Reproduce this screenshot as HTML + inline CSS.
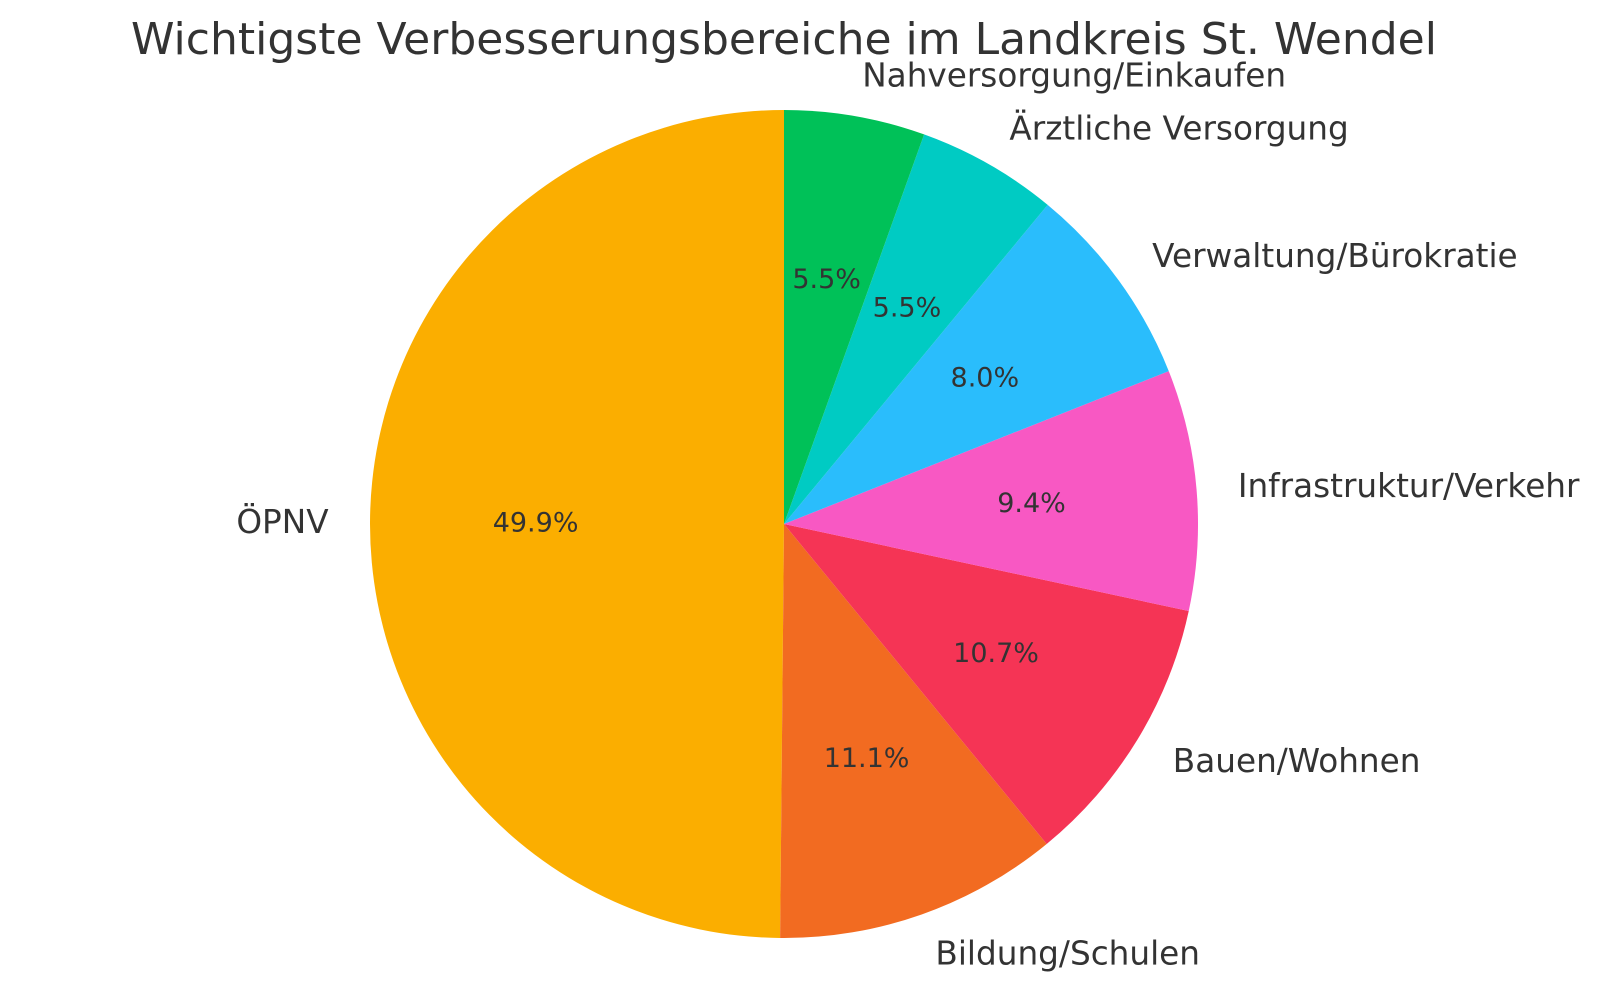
<!DOCTYPE html>
<html><head><meta charset="utf-8"><style>
html,body{margin:0;padding:0;background:#fff;}
svg text{font-family:"DejaVu Sans","Liberation Sans",sans-serif;fill:#333;}
</style></head><body>
<svg id="s" width="1600" height="1000" viewBox="0 0 1600 1000" xmlns="http://www.w3.org/2000/svg">
<text x="784" y="54" font-size="44" text-anchor="middle">Wichtigste Verbesserungsbereiche im Landkreis St. Wendel</text>
</svg>
<script>
const data=[["ÖPNV",49.9,"#FBAE00"],["Bildung/Schulen",11.1,"#F26B21"],["Bauen/Wohnen",10.7,"#F53455"],["Infrastruktur/Verkehr",9.4,"#F858C3"],["Verwaltung/Bürokratie",8.0,"#2ABDFC"],["Ärztliche Versorgung",5.5,"#00CBC3"],["Nahversorgung/Einkaufen",5.5,"#00C158"]];
const cx=784,cy=524,r=414,ns="http://www.w3.org/2000/svg",s=document.getElementById("s");
const tot=data.reduce((a,d)=>a+d[1],0);
let a=90;
function pt(ang,rr){const t=ang*Math.PI/180;return [cx+rr*Math.cos(t),cy-rr*Math.sin(t)];}
for(const [lab,v,c] of data){
 const sw=v/tot*360,a2=a+sw;
 const p1=pt(a,r),p2=pt(a2,r);
 const path=document.createElementNS(ns,"path");
 path.setAttribute("d",`M${cx},${cy}L${p1[0]},${p1[1]}A${r},${r} 0 ${sw>180?1:0} 0 ${p2[0]},${p2[1]}Z`);
 path.setAttribute("fill",c);s.appendChild(path);
 const m=(a+a2)/2;
 const lp=pt(m,r*1.1),pp=pt(m,r*0.6);
 let t=document.createElementNS(ns,"text");
 t.setAttribute("x",lp[0]);t.setAttribute("y",lp[1]);t.setAttribute("font-size","32.7");
 t.setAttribute("dominant-baseline","central");
 t.setAttribute("text-anchor",lp[0]>cx?"start":"end");t.textContent=lab;s.appendChild(t);
 t=document.createElementNS(ns,"text");
 t.setAttribute("x",pp[0]);t.setAttribute("y",pp[1]);t.setAttribute("font-size","27");
 t.setAttribute("dominant-baseline","central");t.setAttribute("text-anchor","middle");
 t.textContent=v.toFixed(1)+"%";s.appendChild(t);
 a=a2;
}
</script>
</body></html>
